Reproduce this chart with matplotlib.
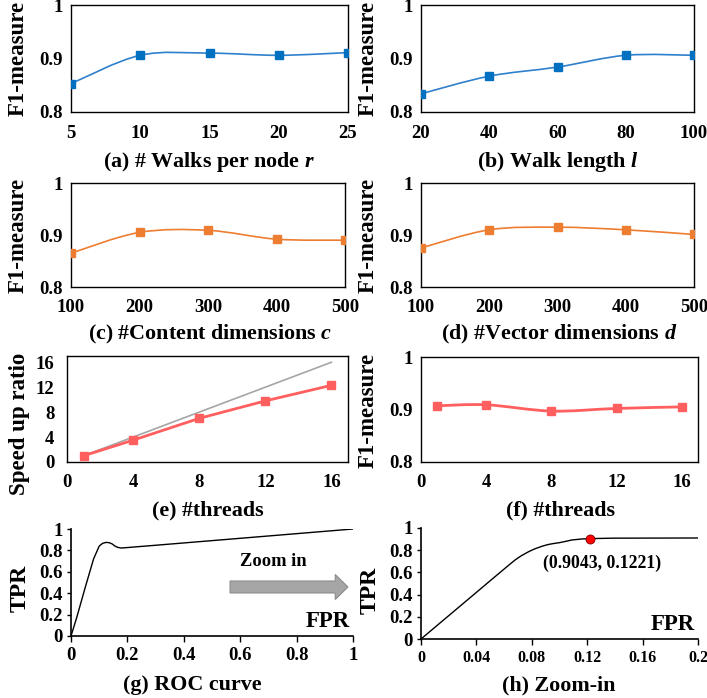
import numpy as np
import matplotlib
matplotlib.use("Agg")
import matplotlib.pyplot as plt
from matplotlib.path import Path
from matplotlib.patches import PathPatch, FancyArrow

plt.rcParams['font.family'] = ['Liberation Serif', 'DejaVu Serif']
plt.rcParams['font.weight'] = 'bold'
plt.rcParams['mathtext.fontset'] = 'custom'
plt.rcParams['mathtext.it'] = 'Liberation Serif:italic:bold'
plt.rcParams['mathtext.rm'] = 'Liberation Serif:bold'
plt.rcParams['mathtext.bf'] = 'Liberation Serif:bold'

# ---------------- data ----------------
walks_x = [5, 10, 15, 20, 25]
walks_f1 = [0.853, 0.906, 0.910, 0.906, 0.911]

length_x = [20, 40, 60, 80, 100]
length_f1 = [0.834, 0.867, 0.884, 0.906, 0.906]

content_x = [100, 200, 300, 400, 500]
content_f1 = [0.865, 0.905, 0.909, 0.892, 0.890]

vector_x = [100, 200, 300, 400, 500]
vector_f1 = [0.875, 0.910, 0.915, 0.910, 0.901]

threads_x = [1, 4, 8, 12, 16]
speedup = [1.0, 3.5, 7.0, 9.8, 12.3]
ideal_speedup = [1, 16]
threads_f1 = [0.907, 0.909, 0.897, 0.902, 0.905]

roc_fpr = [0.0, 0.02, 0.05, 0.08, 0.10, 0.112, 0.125, 0.135, 0.145, 0.155, 0.165, 0.178, 0.3, 0.6, 1.0]
roc_tpr = [0.0, 0.17, 0.45, 0.72, 0.84, 0.866, 0.875, 0.872, 0.862, 0.842, 0.829, 0.822, 0.848, 0.913, 1.0]

zoom_fpr = [0.0, 0.02, 0.04, 0.06, 0.07, 0.08, 0.09, 0.10, 0.1221, 0.2]
zoom_tpr = [0.0, 0.21, 0.42, 0.63, 0.73, 0.80, 0.845, 0.868, 0.9043, 0.91]
opt_point = (0.1221, 0.9043)

# ---------------- layout helpers ----------------
W, H = 707, 698
fig = plt.figure(figsize=(W / 100, H / 100), dpi=100)

TICK_FS = 13.5
CAP_FS = 15.8
YLAB_FS = 16.5


def add_ax(l, t, r, b):
    return fig.add_axes([l / W, 1 - b / H, (r - l) / W, (b - t) / H])


def ftext(x, y, s, **kw):
    fig.text(x / W, 1 - y / H, s, ha='center', va='center', **kw)


def smooth_path(x, y):
    pts = np.column_stack([x, y]).astype(float)
    n = len(pts)
    verts = [pts[0]]
    codes = [Path.MOVETO]
    for i in range(n - 1):
        p0 = pts[max(i - 1, 0)]
        p1 = pts[i]
        p2 = pts[i + 1]
        p3 = pts[min(i + 2, n - 1)]
        c1 = p1 + (p2 - p0) / 6
        c2 = p2 - (p3 - p1) / 6
        verts += [c1, c2, p2]
        codes += [Path.CURVE4] * 3
    return Path(verts, codes)


def box_style(ax, xpad=9.0, ypad=6.0, fs=TICK_FS):
    for s in ax.spines.values():
        s.set_linewidth(1.0)
        s.set_color('black')
    ax.tick_params(length=0, labelsize=fs, pad=ypad, axis='y')
    ax.tick_params(length=0, labelsize=fs, pad=xpad, axis='x')


def f1_panel(ax, x, y, lc, mc, xticks, lw=1.2, ms=5.5):
    ax.add_patch(PathPatch(smooth_path(x, y), fill=False, ec=lc, lw=lw, zorder=2))
    ax.plot(x, y, ls='none', marker='s', ms=ms, color=mc, zorder=3)
    ax.set_xlim(xticks[0], xticks[-1])
    ax.set_ylim(0.8, 1.0)
    ax.set_yticks([0.8, 0.9, 1.0])
    ax.set_yticklabels(['0.8', '0.9', '1'])
    ax.set_xticks(xticks)
    box_style(ax)


BLUE_L, BLUE_M = '#2F80CC', '#0070C0'
ORANGE = '#ED7D31'
RED = '#FF5F5F'

# (a)
ax = add_ax(71, 5, 348, 112)
f1_panel(ax, walks_x, walks_f1, BLUE_L, BLUE_M, [5, 10, 15, 20, 25])
ftext(18, 58, 'F1-measure', rotation=90, fontsize=YLAB_FS, fontweight='bold')
ftext(209, 162, '(a) # Walks per node $r$', fontsize=CAP_FS, fontweight='bold')

# (b)
ax = add_ax(421, 5, 694, 112)
f1_panel(ax, length_x, length_f1, BLUE_L, BLUE_M, [20, 40, 60, 80, 100])
ftext(368, 58, 'F1-measure', rotation=90, fontsize=YLAB_FS, fontweight='bold')
ftext(558, 162, '(b) Walk length $l$', fontsize=CAP_FS, fontweight='bold')

# (c)
ax = add_ax(71, 183, 345, 287)
f1_panel(ax, content_x, content_f1, ORANGE, ORANGE, [100, 200, 300, 400, 500])
ftext(18, 235, 'F1-measure', rotation=90, fontsize=YLAB_FS, fontweight='bold')
ftext(210, 334, '(c) #Content dimensions $c$', fontsize=CAP_FS, fontweight='bold')

# (d)
ax = add_ax(421, 183, 694, 287)
f1_panel(ax, vector_x, vector_f1, ORANGE, ORANGE, [100, 200, 300, 400, 500])
ftext(368, 235, 'F1-measure', rotation=90, fontsize=YLAB_FS, fontweight='bold')
ftext(559, 334, '(d) #Vector dimensions $d$', fontsize=CAP_FS, fontweight='bold')

# (e)
ax = add_ax(67, 356, 348, 462)
ax.plot(ideal_speedup, ideal_speedup, color='#A6A6A6', lw=1.2, zorder=2)
ax.plot(threads_x, speedup, color=RED, lw=2.0, marker='s', ms=6, zorder=3)
ax.set_xlim(0, 17)
ax.set_ylim(0, 17)
ax.set_xticks([0, 4, 8, 12, 16])
ax.set_yticks([0, 4, 8, 12, 16])
box_style(ax, xpad=8.5, ypad=9.0)
ftext(20, 424, 'Speed up ratio', rotation=90, fontsize=YLAB_FS, fontweight='bold')
ftext(208, 510, '(e) #threads', fontsize=CAP_FS, fontweight='bold')

# (f)
ax = add_ax(421, 357, 698, 462)
ax.add_patch(PathPatch(smooth_path(threads_x, threads_f1), fill=False, ec=RED, lw=2.0, zorder=2))
ax.plot(threads_x, threads_f1, ls='none', marker='s', ms=6, color=RED, zorder=3)
ax.set_xlim(0, 17)
ax.set_ylim(0.8, 1.0)
ax.set_xticks([0, 4, 8, 12, 16])
ax.set_yticks([0.8, 0.9, 1.0])
ax.set_yticklabels(['0.8', '0.9', '1'])
box_style(ax, xpad=8.5)
ftext(368, 410, 'F1-measure', rotation=90, fontsize=YLAB_FS, fontweight='bold')
ftext(560, 510, '(f) #threads', fontsize=CAP_FS, fontweight='bold')


def roc_style(ax, xfs):
    for k in ['top', 'right']:
        ax.spines[k].set_visible(False)
    for k in ['left', 'bottom']:
        ax.spines[k].set_linewidth(1.2)
        ax.spines[k].set_color('black')
    ax.tick_params(axis='y', direction='out', length=3, width=1, labelsize=TICK_FS, pad=3)
    ax.tick_params(axis='x', direction='out', length=4, width=1, labelsize=xfs, pad=4)
    ax.set_ylim(0, 1)
    ax.set_yticks([0, 0.2, 0.4, 0.6, 0.8, 1.0])
    ax.set_yticklabels(['0', '0.2', '0.4', '0.6', '0.8', '1'])


# (g)
ax = add_ax(71, 529, 353, 636)
ax.plot(roc_fpr, roc_tpr, color='black', lw=1.0)
ax.set_xlim(0, 1)
ax.set_xticks([0, 0.2, 0.4, 0.6, 0.8, 1.0])
ax.set_xticklabels(['0', '0.2', '0.4', '0.6', '0.8', '1'])
roc_style(ax, TICK_FS)
ax.add_patch(FancyArrow(0.564, 0.458, 0.418, 0, width=0.112, head_width=0.234,
                        head_length=0.045, length_includes_head=True,
                        fc='#A6A6A6', ec='#8C8C8C', lw=0.8, clip_on=False))
ax.text(0.716, 0.70, 'Zoom in', ha='center', va='center', fontsize=13.3, fontweight='bold')
ax.text(0.99, 0.04, 'FPR', ha='right', va='bottom', fontsize=16.5, fontweight='bold',
        transform=ax.transAxes)
ftext(20, 588, 'TPR', rotation=90, fontsize=17, fontweight='bold')
ftext(192, 685, '(g) ROC curve', fontsize=CAP_FS, fontweight='bold')

# (h)
ax = add_ax(421, 528, 698, 639)
ax.add_patch(PathPatch(smooth_path(zoom_fpr, zoom_tpr), fill=False, ec='black', lw=1.0))
ax.plot([opt_point[0]], [opt_point[1]], 'o', ms=6.5, mfc='#FF0000', mec='#800000', mew=0.6, zorder=4)
ax.set_xlim(0, 0.2)
ax.set_xticks([0, 0.04, 0.08, 0.12, 0.16, 0.2])
ax.set_xticklabels(['0', '0.04', '0.08', '0.12', '0.16', '0.2'])
roc_style(ax, 11.5)
ax.text(0.131, 0.685, '(%.4f, %.4f)' % (opt_point[1], opt_point[0]), ha='center', va='center',
        fontsize=12.8, fontweight='bold')
ax.text(0.99, 0.04, 'FPR', ha='right', va='bottom', fontsize=16.5, fontweight='bold',
        transform=ax.transAxes)
ftext(370, 590, 'TPR', rotation=90, fontsize=17, fontweight='bold')
ftext(559, 685, '(h) Zoom-in', fontsize=CAP_FS, fontweight='bold')

fig.savefig('out.png', dpi=100)
